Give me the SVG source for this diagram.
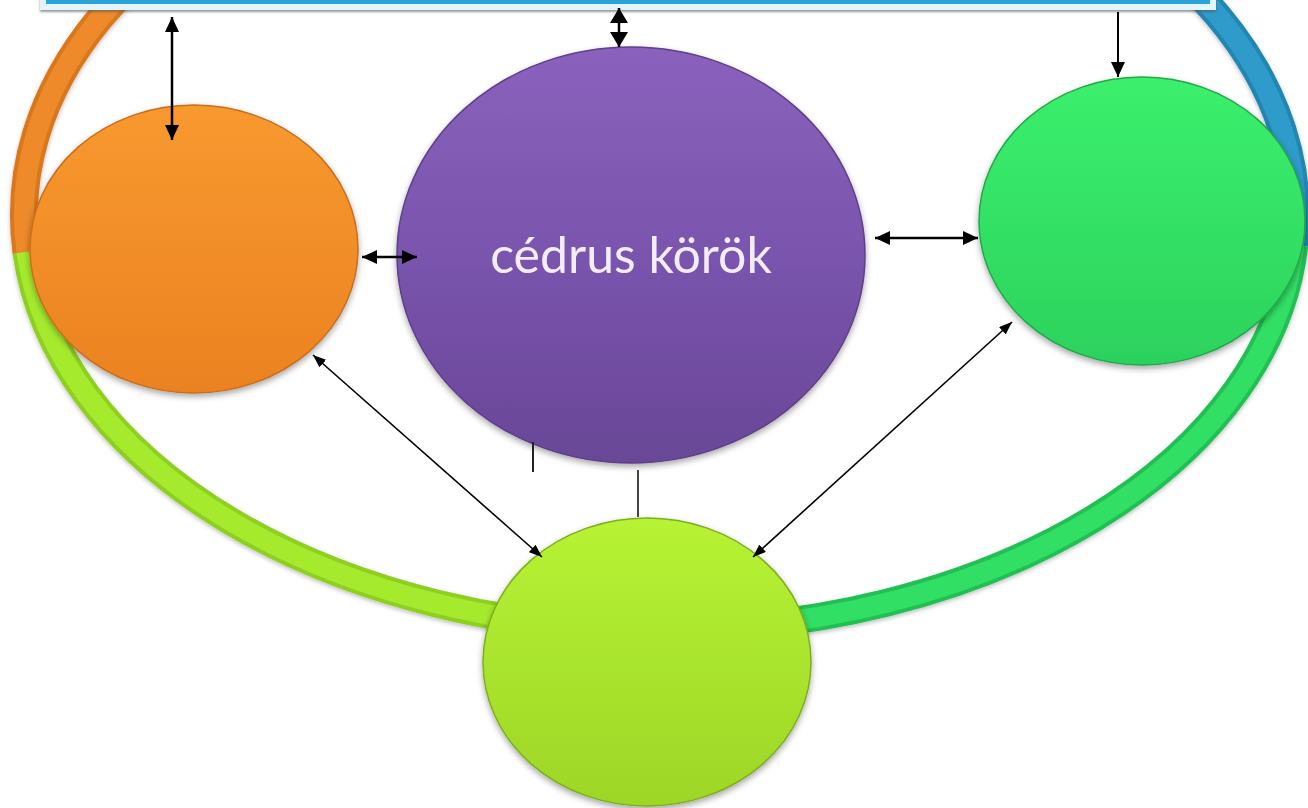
<svg xmlns="http://www.w3.org/2000/svg" width="1308" height="808" viewBox="0 0 1308 808">
<defs>
<style>
.arcbase{fill:none;stroke-width:28;stroke-linecap:butt}
.arctop{fill:none;stroke-width:20;stroke-linecap:butt}
.node{filter:url(#shadow)}
.conn{stroke:#000;fill:none;stroke-linecap:butt}
.plain{stroke-width:2;fill:none}
.label{font-family:Lato,"Open Sans","Liberation Sans",sans-serif;font-size:50px;fill:#F3ECFB;text-anchor:middle}
</style>
<filter id="shadow" x="-10%" y="-10%" width="120%" height="125%">
<feDropShadow dx="0" dy="3" stdDeviation="3" flood-color="#000" flood-opacity="0.35"/>
</filter>
<filter id="arcshadow" x="-5%" y="-5%" width="110%" height="110%">
<feDropShadow dx="0" dy="2" stdDeviation="2" flood-color="#000" flood-opacity="0.25"/>
</filter>
<filter id="barshadow" x="-5%" y="-50%" width="110%" height="200%">
<feDropShadow dx="0" dy="2" stdDeviation="1" flood-color="#555" flood-opacity="0.6"/>
</filter>
<linearGradient id="gOrange" x1="0" y1="0" x2="0" y2="1">
<stop offset="0" stop-color="#F8992F"/><stop offset="1" stop-color="#EB8221"/>
</linearGradient>
<linearGradient id="gPurple" x1="0" y1="0" x2="0" y2="1">
<stop offset="0" stop-color="#8A62BD"/><stop offset="0.5" stop-color="#7A54AD"/><stop offset="1" stop-color="#694797"/>
</linearGradient>
<linearGradient id="gGreen" x1="0" y1="0" x2="0" y2="1">
<stop offset="0" stop-color="#3BF06D"/><stop offset="1" stop-color="#2CD25D"/>
</linearGradient>
<linearGradient id="gLime" x1="0" y1="0" x2="0" y2="1">
<stop offset="0" stop-color="#B7F334"/><stop offset="1" stop-color="#9DD627"/>
</linearGradient>
<marker id="mA" viewBox="0 0 15 14" refX="15" refY="7" markerWidth="15" markerHeight="14" markerUnits="userSpaceOnUse" orient="auto-start-reverse">
<path d="M0,0 L15,7 L0,14 Z" fill="#000"/>
</marker>
<marker id="mB" viewBox="0 0 13 10" refX="13" refY="5" markerWidth="13" markerHeight="10" markerUnits="userSpaceOnUse" orient="auto-start-reverse">
<path d="M0,0 L13,5 L0,10 Z" fill="#000"/>
</marker>
<marker id="mC" viewBox="0 0 15 18" refX="15" refY="9" markerWidth="15" markerHeight="18" markerUnits="userSpaceOnUse" orient="auto-start-reverse">
<path d="M0,0 L15,9 L0,18 Z" fill="#000"/>
</marker>
</defs>
<rect width="1308" height="808" fill="#FFFFFF"/>
<g id="ring" filter="url(#arcshadow)">
<path class="arcbase" stroke="#D9771E" d="M357,-150 A636,415 0 0 0 26.5,252"/>
<path class="arctop" stroke="#EE8A2A" d="M357,-150 A636,415 0 0 0 26.5,252"/>
<path class="arcbase" stroke="#8ECF22" d="M26.5,252 A636,415 0 0 0 660,630"/>
<path class="arctop" stroke="#A6EA2E" d="M26.5,252 A636,415 0 0 0 660,630"/>
<path class="arcbase" stroke="#24BF55" d="M660,630 A636,415 0 0 0 1294.3,245"/>
<path class="arctop" stroke="#31DF65" d="M660,630 A636,415 0 0 0 1294.3,245"/>
<path class="arcbase" stroke="#2486B3" d="M1294.3,245 A636,415 0 0 0 962.7,-150"/>
<path class="arctop" stroke="#2D9BCA" d="M1294.3,245 A636,415 0 0 0 962.7,-150"/>
</g>
<g id="node-top" filter="url(#barshadow)">
<rect x="43" y="-40" width="1170" height="47" fill="#29A3DA" stroke="#E3F4FA" stroke-width="6"/>
</g>
<g id="node-orange" class="node">
<ellipse cx="194" cy="249" rx="164" ry="144" fill="url(#gOrange)" stroke="#C96E1C" stroke-width="1.5"/>
</g>
<g id="node-purple" class="node">
<ellipse cx="631" cy="255" rx="234" ry="208" fill="url(#gPurple)" stroke="#5E3F8A" stroke-width="1.5"/>
<text class="label" x="631" y="273">cédrus körök</text>
</g>
<g id="node-green" class="node">
<ellipse cx="1142" cy="221" rx="163" ry="144" fill="url(#gGreen)" stroke="#22A84A" stroke-width="1.5"/>
</g>
<g id="node-lime" class="node">
<ellipse cx="647" cy="662" rx="164" ry="144" fill="url(#gLime)" stroke="#7FAE1C" stroke-width="1.5"/>
</g>
<g id="connectors">
<line class="conn" x1="172" y1="17" x2="172" y2="140" stroke-width="2.5" marker-start="url(#mA)" marker-end="url(#mA)"/>
<line class="conn" x1="619" y1="8" x2="619" y2="47" stroke-width="2.5" marker-start="url(#mC)" marker-end="url(#mC)"/>
<line class="conn" x1="1118" y1="12" x2="1118" y2="77" stroke-width="2" marker-end="url(#mA)"/>
<line class="conn" x1="362" y1="257" x2="417" y2="257" stroke-width="2.5" marker-start="url(#mA)" marker-end="url(#mA)"/>
<line class="conn" x1="875" y1="238" x2="978" y2="238" stroke-width="2.5" marker-start="url(#mA)" marker-end="url(#mA)"/>
<line class="conn" x1="313" y1="355" x2="542" y2="557" stroke-width="1.6" marker-start="url(#mB)" marker-end="url(#mB)"/>
<line class="conn" x1="1012" y1="322" x2="753" y2="557" stroke-width="1.6" marker-start="url(#mB)" marker-end="url(#mB)"/>
<line class="plain" x1="533" y1="442" x2="533" y2="472" stroke="#222"/>
<line class="plain" x1="638" y1="470" x2="638" y2="517" stroke="#444"/>
</g>
</svg>
